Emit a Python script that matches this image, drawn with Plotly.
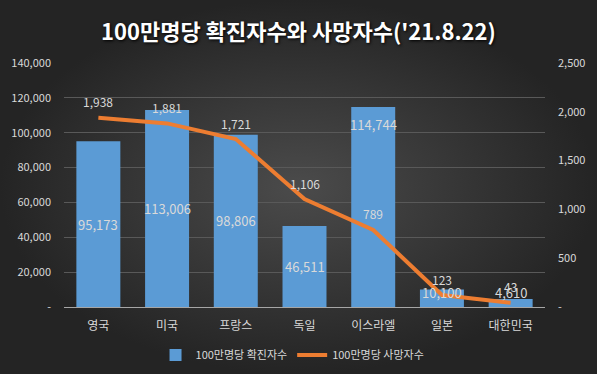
import plotly.graph_objects as go

countries = ['영국', '미국', '프랑스', '독일', '이스라엘', '일본', '대한민국']
cases = [95173, 113006, 98806, 46511, 114744, 10100, 4610]
deaths = [1938, 1881, 1721, 1106, 789, 123, 43]

left_ticks = [0, 20000, 40000, 60000, 80000, 100000, 120000, 140000]
left_text = ['-', '20,000', '40,000', '60,000', '80,000', '100,000', '120,000', '140,000']
right_ticks = [0, 500, 1000, 1500, 2000, 2500]
right_text = ['-', '500', '1,000', '1,500', '2,000', '2,500']

# where each bar's value label sits (style, not data)
label_mode = ['center', 'center', 'center', 'center', 'end', 'low', 'low']

W, H = 597, 374
FONT = 'Noto Sans CJK KR'
TXT = '#d9d9d9'

fig = go.Figure()

# radial-gradient background
fig.add_trace(go.Scatter(
    x=[0, 1, 1, 0, 0], y=[0, 0, 1, 1, 0], xaxis='x', yaxis='y',
    mode='lines', fill='toself', line=dict(width=0),
    fillgradient=dict(type='radial', colorscale=[[0, '#4b4b4b'], [1, '#242424']]),
    hoverinfo='skip', showlegend=False))

fig.add_trace(go.Bar(
    x=countries, y=cases, xaxis='x2', yaxis='y2',
    name='100만명당 확진자수', marker=dict(color='#5b9bd5', line=dict(width=0)),
    width=0.64, hoverinfo='skip'))

fig.add_trace(go.Scatter(
    x=countries, y=deaths, xaxis='x2', yaxis='y3',
    name='100만명당 사망자수', mode='lines',
    line=dict(color='#ed7d31', width=4), hoverinfo='skip'))

ann = []
for c, v, m in zip(countries, cases, label_mode):
    if m == 'end':
        ann.append(dict(x=c, y=v, xref='x2', yref='y2', text=f'{v:,}', yanchor='top', yshift=-6,
                        showarrow=False, font=dict(family=FONT, size=13, color=TXT)))
    elif m == 'low':
        ann.append(dict(x=c, y=0, xref='x2', yref='y2', text=f'{v:,}', yanchor='middle', yshift=15,
                        showarrow=False, font=dict(family=FONT, size=13, color=TXT)))
    else:
        ann.append(dict(x=c, y=v / 2, xref='x2', yref='y2', text=f'{v:,}',
                        showarrow=False, font=dict(family=FONT, size=13, color=TXT)))
for c, v in zip(countries, deaths):
    ann.append(dict(x=c, y=v, xref='x2', yref='y3', text=f'{v:,}', yshift=16,
                    showarrow=False, font=dict(family=FONT, size=12, color=TXT)))

x0, x1 = 64 / W, 545 / W
y0, y1 = 1 - 307 / H, 1 - 63 / H

fig.update_layout(
    width=W, height=H, margin=dict(l=0, r=0, t=0, b=0),
    paper_bgcolor='#2e2e2e', plot_bgcolor='rgba(0,0,0,0)',
    title=dict(text='<b>100만명당 확진자수와 사망자수(\'21.8.22)</b>', x=0.5, xanchor='center',
               y=1 - 32 / H, yanchor='middle',
               font=dict(family=FONT, size=22, color='white', shadow='1px 1px 3px black')),
    xaxis=dict(domain=[0, 1], range=[0, 1], visible=False, fixedrange=True),
    yaxis=dict(domain=[0, 1], range=[0, 1], visible=False, fixedrange=True),
    xaxis2=dict(domain=[x0, x1], anchor='y2', type='category', showgrid=False,
                showline=True, linecolor='#a6a6a6', linewidth=1, ticks='',
                tickfont=dict(family=FONT, size=12, color=TXT), ticklabelstandoff=8,
                automargin=False),
    yaxis2=dict(domain=[y0, y1], anchor='x2', range=[0, 140000], tickvals=left_ticks,
                ticktext=left_text, showgrid=True, gridcolor='#595959', gridwidth=1,
                zeroline=False, tickfont=dict(family=FONT, size=11, color=TXT),
                ticklabelstandoff=12, automargin=False),
    yaxis3=dict(overlaying='y2', side='right', anchor='x2', range=[0, 2500],
                tickvals=right_ticks, ticktext=right_text, showgrid=False, zeroline=False,
                tickfont=dict(family=FONT, size=11, color=TXT), ticklabelstandoff=12,
                automargin=False),
    showlegend=True,
    legend=dict(orientation='h', x=0.49, xanchor='center', y=1 - 355 / H, yanchor='middle',
                font=dict(family=FONT, size=11, color=TXT), bgcolor='rgba(0,0,0,0)',
                itemwidth=30, tracegroupgap=0),
    annotations=ann,
    bargap=0.36,
)

fig.write_html('out.html', config={'displayModeBar': False},
               post_script="document.body.style.margin='0';document.body.style.overflow='hidden';")
